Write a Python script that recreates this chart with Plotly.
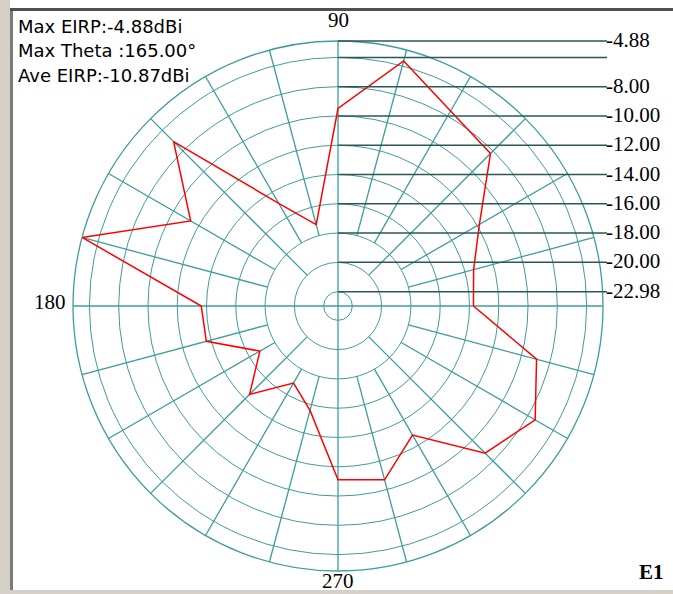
import plotly.graph_objects as go

# ---------------- data ----------------
theta_deg = [0, 15, 30, 45, 60, 75, 90, 105, 120, 135, 150, 165,
             180, 195, 210, 225, 240, 255, 270, 285, 300, 315, 330, 345]
eirp_dbi = [-13.73, -13.39, -11.83, -8.25, -7.60, -5.65, -9.49, -17.23,
            -14.88, -7.10, -11.36, -4.88, -13.64, -13.67, -16.82, -14.44,
            -16.90, -15.60, -11.11, -10.69, -12.80, -8.77, -7.43, -8.94]

r_min, r_max = -22.98, -4.88
ring_vals = [-22, -20, -18, -16, -14, -12, -10, -8, -6]
label_vals = [-4.88, -6, -8, -10, -12, -14, -16, -18, -20, -22]
label_texts = ["-4.88", "", "-8.00", "-10.00", "-12.00", "-14.00", "-16.00",
               "-18.00", "-20.00", "-22.98"]
info_lines = ["Max EIRP:-4.88dBi", "Max Theta :165.00\u00b0", "Ave EIRP:-10.87dBi"]

# ---------------- layout geometry ----------------
W, H = 673, 594
CX, CY, R = 338, 306, 265
GRID = "#3f9c9c"
DARK = "#2d5656"

dom_x = [(CX - R) / W, (CX + R) / W]
dom_y = [(H - CY - R) / H, (H - CY + R) / H]


def ypix(db):
    """pixel y (from top) of the top of ring with value db"""
    return CY - (db - r_min) / (r_max - r_min) * R


fig = go.Figure()

# spokes every 15 deg, starting at different rings
for a in range(0, 360, 15):
    if a % 90 == 0:
        start = r_min
    elif a % 45 == 0:
        start = -20
    else:
        start = -18
    fig.add_trace(go.Scatterpolar(r=[start, r_max], theta=[a, a], mode="lines",
                                  line=dict(color=GRID, width=1.3),
                                  hoverinfo="skip", showlegend=False))

# pattern
fig.add_trace(go.Scatterpolar(r=eirp_dbi + [eirp_dbi[0]],
                              theta=theta_deg + [theta_deg[0]],
                              mode="lines", line=dict(color="#ff0000", width=1.5),
                              showlegend=False))

fig.update_layout(
    width=W, height=H, autosize=False,
    margin=dict(l=0, r=0, t=0, b=0),
    paper_bgcolor="white",
    polar=dict(
        domain=dict(x=dom_x, y=dom_y),
        bgcolor="white",
        radialaxis=dict(range=[r_min, r_max], tickvals=ring_vals,
                        showticklabels=False, ticks="", showline=False,
                        gridcolor=GRID, gridwidth=1.3),
        angularaxis=dict(rotation=0, direction="counterclockwise",
                         showgrid=False, showticklabels=False, ticks="",
                         showline=True, linecolor=GRID, linewidth=1.3),
    ),
)

shapes = []
annotations = []

# label lines on right
for v, t in zip(label_vals, label_texts):
    y = ypix(v)
    shapes.append(dict(type="line", xref="paper", yref="paper",
                       x0=CX / W, x1=607 / W, y0=1 - y / H, y1=1 - y / H,
                       line=dict(color=DARK, width=1.5)))
    if t:
        annotations.append(dict(text=t, x=604 / W, y=1 - (y - 1) / H,
                                xref="paper", yref="paper", xanchor="left",
                                yanchor="middle", showarrow=False,
                                font=dict(family="Liberation Serif", size=21,
                                          color="black")))

# angle labels
annotations.append(dict(text="90", x=CX / W, y=1 - 20 / H, xref="paper", yref="paper",
                        xanchor="center", yanchor="middle", showarrow=False,
                        font=dict(family="Liberation Serif", size=21, color="black")))
annotations.append(dict(text="180", x=68 / W, y=1 - 302 / H, xref="paper", yref="paper",
                        xanchor="right", yanchor="middle", showarrow=False,
                        font=dict(family="Liberation Serif", size=21, color="black")))
annotations.append(dict(text="270", x=CX / W, y=1 - 581 / H, xref="paper", yref="paper",
                        xanchor="center", yanchor="middle", showarrow=False,
                        font=dict(family="Liberation Serif", size=21, color="black")))
annotations.append(dict(text="<b>E1</b>", x=666 / W, y=1 - 572 / H, xref="paper", yref="paper",
                        xanchor="right", yanchor="middle", showarrow=False,
                        font=dict(family="Liberation Serif", size=21, color="black")))

for i, t in enumerate(info_lines):
    annotations.append(dict(text=t, x=16 / W, y=1 - (26 + 24.5 * i) / H,
                            xref="paper", yref="paper", xanchor="left",
                            yanchor="middle", showarrow=False,
                            font=dict(family="DejaVu Sans", size=18, color="black")))

# window frame
shapes += [
    dict(type="rect", xref="paper", yref="paper", x0=0, x1=10 / W, y0=0, y1=1,
         fillcolor="#d4d0c8", line=dict(width=0), layer="above"),
    dict(type="rect", xref="paper", yref="paper", x0=10 / W, x1=13 / W, y0=0, y1=1 - 8 / H,
         fillcolor="#7a7a7a", line=dict(width=0), layer="above"),
    dict(type="rect", xref="paper", yref="paper", x0=10 / W, x1=1, y0=1 - 11 / H, y1=1 - 8 / H,
         fillcolor="#505050", line=dict(width=0), layer="above"),
    dict(type="rect", xref="paper", yref="paper", x0=0, x1=1, y0=0, y1=4 / H,
         fillcolor="#d4d0c8", line=dict(width=0), layer="above"),
]

fig.update_layout(shapes=shapes, annotations=annotations)
fig.write_html("out.html", config={"displayModeBar": False},
               post_script="document.body.style.margin='0';document.body.style.overflow='hidden';")
